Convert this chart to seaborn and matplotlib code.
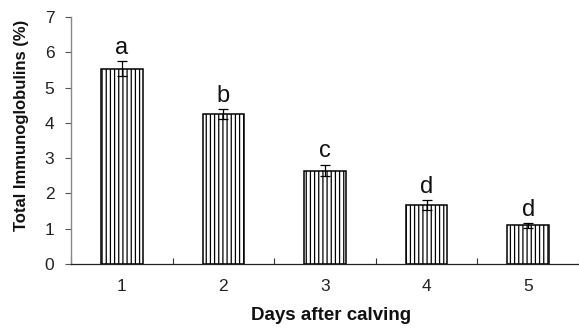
import matplotlib
matplotlib.use("Agg")
import matplotlib.pyplot as plt
import seaborn as sns
import pandas as pd
import numpy as np

days = ["1", "2", "3", "4", "5"]
values = [5.54, 4.24, 2.65, 1.67, 1.10]
errors = [0.20, 0.14, 0.17, 0.14, 0.07]
letters = ["a", "b", "c", "d", "d"]
yticks = [0, 1, 2, 3, 4, 5, 6, 7]

sns.set_theme(style="ticks")
plt.rcParams['font.family'] = ['Liberation Sans', 'DejaVu Sans']
plt.rcParams['hatch.linewidth'] = 0.9

df = pd.DataFrame({"day": days, "value": values})

fig = plt.figure(figsize=(5.79, 3.31), dpi=100)
ax = fig.add_axes([0.1226, 0.2024, 0.8774, 0.7462])

sns.barplot(data=df, x="day", y="value", ax=ax, color="white", width=0.41,
            edgecolor="black", linewidth=1.1, errorbar=None, saturation=1)
for p in ax.patches:
    p.set_hatch("||||")
    p.set_facecolor("white")
    p.set_edgecolor("black")

xs = np.arange(len(days))
ax.errorbar(xs, values, yerr=errors, fmt="none", ecolor="black",
            elinewidth=0.9, capsize=3.6, capthick=0.9)
for x, v, e, t in zip(xs, values, errors, letters):
    ax.text(x, v + e + 0.06, t, ha="center", va="bottom", fontsize=17, color="#111111")

ax.set_xlim(-0.5, 4.5)
ax.set_ylim(0, 7)
ax.set_yticks(yticks)
ax.set_yticklabels([str(t) for t in yticks], fontsize=12.5, color="#222222")
ax.set_xticks(np.arange(-0.5, 5.0, 1.0))
ax.set_xticklabels([""] * 6)
ax.set_xticks(xs, minor=True)
ax.set_xticklabels(days, minor=True, fontsize=12.5, color="#222222")
ax.tick_params(axis="x", which="minor", length=0, pad=11)
ax.tick_params(axis="x", which="major", length=4, direction="in", width=0.8, color="#333333")
ax.tick_params(axis="y", length=4, width=0.8, color="#555555", pad=8)

sns.despine(ax=ax)
ax.spines["left"].set_color("#888888")
ax.spines["left"].set_linewidth(1.0)
ax.spines["bottom"].set_color("#222222")
ax.spines["bottom"].set_linewidth(0.9)

ax.set_xlabel("Days after calving", fontsize=13.5, fontweight="bold", color="#111111")
ax.set_ylabel("Total Immunoglobulins (%)", fontsize=12, fontweight="bold", color="#111111")
ax.xaxis.set_label_coords(0.512, -0.175)
ax.yaxis.set_label_coords(-0.097, 0.563)
ax.xaxis.label.set_va("top")
ax.yaxis.label.set_va("center")

fig.savefig("out.png", dpi=100)
